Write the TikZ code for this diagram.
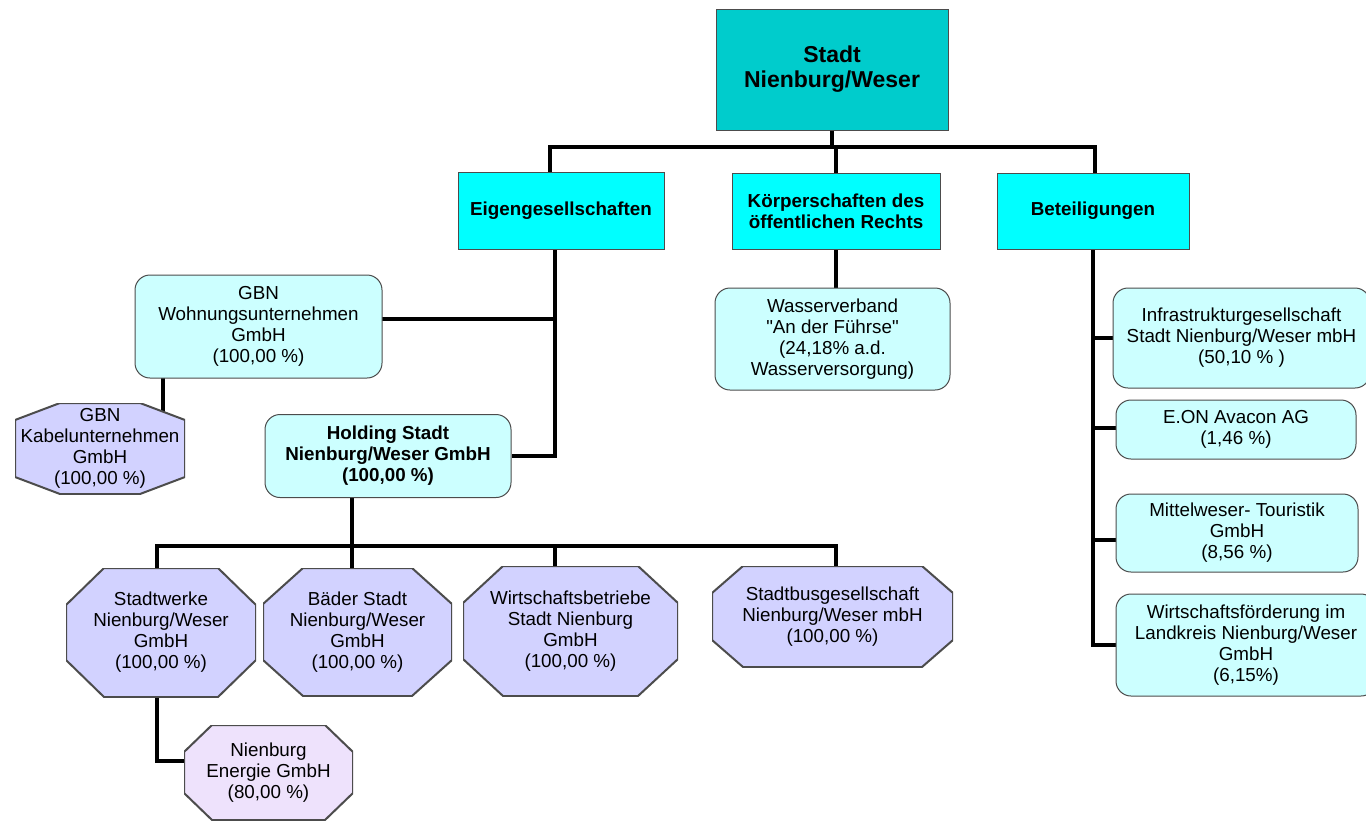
\documentclass[tikz,border=0pt]{standalone}
\usepackage{fontspec}
\setmainfont{Liberation Sans}[Ligatures=TeXOff]
\usetikzlibrary{
	shapes,
	backgrounds,
	calc}

\definecolor{topcyan}{HTML}{00CCCC}
\definecolor{midcyan}{HTML}{00FFFF}
\definecolor{palecyan}{HTML}{CCFFFF}
\definecolor{lavender}{HTML}{D2D2FF}
\definecolor{lilac}{HTML}{EEE2FC}

\tikzset{
  octfill/.store in=\octfill, octfill=lavender,
  org/.style={draw=black!70, line width=0.5pt, align=center, inner sep=0pt,
    font=\fontsize{9.4}{10.5}\selectfont},
  box/.style 2 args={minimum width=#1, minimum height=#2},
  chief/.style={org, fill=topcyan, font=\fontsize{11.5}{12.5}\selectfont\bfseries},
  branch/.style={org, fill=midcyan, font=\fontsize{9.4}{10.5}\selectfont\bfseries},
  firm/.style={org, rounded corners=7.5pt, fill=palecyan},
  octa/.style 2 args={org, draw=none, path picture={
      \path[draw=black!70, line width=1pt, fill=\octfill]
        ([xshift=#1]path picture bounding box.north west) --
        ([xshift=-#1]path picture bounding box.north east) --
        ([yshift=-#2]path picture bounding box.north east) --
        ([yshift=#2]path picture bounding box.south east) --
        ([xshift=-#1]path picture bounding box.south east) --
        ([xshift=#1]path picture bounding box.south west) --
        ([yshift=#2]path picture bounding box.south west) --
        ([yshift=-#2]path picture bounding box.north west) -- cycle;}},
  link/.style={line width=2pt}
}

\begin{document}
\begin{tikzpicture}[x=0.5pt,y=-0.5pt]
      \useasboundingbox (0,0) rectangle (1366,820);

      \node[chief, box={116pt}{60.5pt}] (SN) at (832,69.5) {Stadt\\Nienburg/Weser};

      \node[branch, box={103pt}{38.5pt}] (EG) at (561,210.5) {Eigengesellschaften};
      \node[branch, box={104pt}{38pt}] (KR) at (836,211) {Körperschaften des\\öffentlichen Rechts};
      \node[branch, box={96pt}{38pt}] (BT) at (1093,211) {Beteiligungen};

      \node[firm, box={123.5pt}{51.5pt}] (GW) at (258.5,326.5) {GBN\\Wohnungsunternehmen\\GmbH\\(100,00 \%)};
      \node[octa={22.5pt}{8.5pt}, box={85pt}{45.5pt}] (GK) at (100,448.5) {GBN\\Kabelunternehmen\\GmbH\\(100,00 \%)};
      \node[firm, font=\fontsize{9.4}{10.5}\selectfont\bfseries, box={123pt}{41.5pt}] (HS) at (388,456) {Holding Stadt\\Nienburg/Weser GmbH\\(100,00 \%)};

      \node[firm, box={117.5pt}{51pt}] (WV) at (832.5,339) {Wasserverband\\"An der Führse"\\(24,18\% a.d.\\Wasserversorgung)};

      \node[firm, box={128.5pt}{50pt}] (IS) at (1241.5,338) {Infrastrukturgesellschaft\\Stadt Nienburg/Weser mbH\\(50,10 \% )};
      \node[firm, box={120pt}{29.5pt}] (EA) at (1236,429.5) {E.ON Avacon AG\\(1,46 \%)};
      \node[firm, box={121pt}{39pt}] (MT) at (1237,533) {Mittelweser- Touristik\\GmbH\\(8,56 \%)};
      \node[firm, box={130pt}{51pt}] (WF) at (1246,645) {Wirtschaftsförderung im\\Landkreis Nienburg/Weser\\GmbH\\(6,15\%)};

      \node[octa={19pt}{18.5pt}, box={95pt}{64.5pt}] (SW) at (161,632.5) {Stadtwerke\\Nienburg/Weser\\GmbH\\(100,00 \%)};
      \node[octa={20pt}{18pt}, box={94.5pt}{64pt}] (BS) at (357.5,632) {Bäder Stadt\\Nienburg/Weser\\GmbH\\(100,00 \%)};
      \node[octa={20pt}{18.5pt}, box={107.5pt}{65pt}] (WB) at (570.5,631) {Wirtschaftsbetriebe\\Stadt Nienburg\\GmbH\\(100,00 \%)};
      \node[octa={15.5pt}{13.5pt}, box={120.5pt}{50.5pt}] (SB) at (832.5,616.5) {Stadtbusgesellschaft\\Nienburg/Weser mbH\\(100,00 \%)};
      \node[octa={14pt}{13.5pt}, octfill=lilac, box={84.5pt}{47.5pt}] (NE) at (268.5,772.5) {Nienburg\\Energie GmbH\\(80,00 \%)};

      % bus lines
      \coordinate (B1) at (550,147);
      \coordinate (B2) at (1095,147);
      \coordinate (E1) at (555,0);
      \coordinate (G1) at (163,0);
      \coordinate (H1) at (157,546);
      \coordinate (H2) at (352,546);
      \coordinate (H3) at (555,546);
      \coordinate (H4) at (836,546);
      \coordinate (T1) at (1093,0);

      \begin{scope}[on background layer]
      \draw [link] (SN)     -- (SN |- B1);
      \draw [link] (EG -| B1)     -- (B1) -- (B2) -- (BT -| B2);
      \draw [link] (KR)     -- (KR |- B1);
      \draw [link] (KR)     -- (WV -| KR);
      \draw [link] (EG -| E1)     |- (HS);
      \draw [link] ([yshift=4pt]GW.center)     -- ([yshift=4pt]GW.center -| E1);
      \draw [link] (GW -| G1)     -- (GK -| G1);
      \draw [link] (HS -| H2)     -- (BS -| H2);
      \draw [link] (SW -| H1)     -- (H1) -- (H4) -- (SB -| H4);
      \draw [link] (H3)     -- (WB -| H3);
      \draw [link] (SW -| H1)     |- ([yshift=6pt]NE.center);
      \draw [link] (BT -| T1)     |- (WF);
      \draw [link] (IS -| T1)     -- (IS);
      \draw [link] ([yshift=1pt]EA.center -| T1)     -- ([yshift=1pt]EA.center);
      \draw [link] ([yshift=-3.5pt]MT.center -| T1)     -- ([yshift=-3.5pt]MT.center);
      \end{scope}
  \end{tikzpicture}
\end{document}
